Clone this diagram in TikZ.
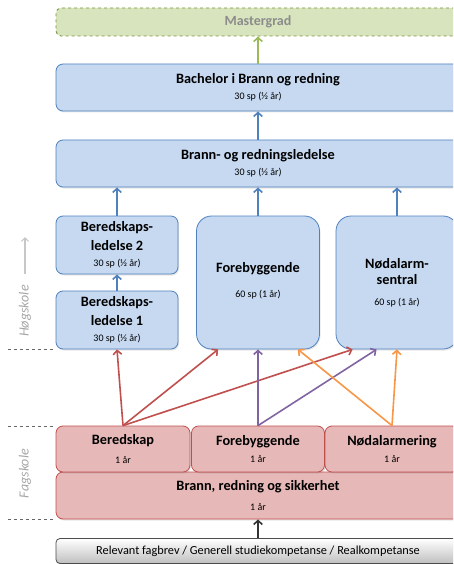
\documentclass[tikz,border=0pt]{standalone}
\usepackage{fontspec}
\setmainfont{Carlito}
\usetikzlibrary{arrows.meta,shadows,calc}
\definecolor{blueF}{HTML}{C6D9F1}
\definecolor{blueB}{HTML}{4F81BD}
\definecolor{redF}{HTML}{E6B9B8}
\definecolor{redB}{HTML}{C0504D}
\definecolor{greenF}{HTML}{D7E4BD}
\definecolor{greenB}{HTML}{77933C}
\definecolor{greenA}{HTML}{9BBB59}
\definecolor{purpleA}{HTML}{8064A2}
\definecolor{orangeA}{HTML}{F79646}
\newcommand{\ttl}[1]{{\bfseries #1}}
\newcommand{\sub}[1]{{\fontsize{10}{12}\selectfont #1}}
\tikzset{
  box/.style={inner sep=0pt, align=center, line width=0.8pt,
    font=\fontsize{14.3}{17.5}\selectfont,
    drop shadow={opacity=0.2, shadow xshift=1pt, shadow yshift=-1.5pt}},
  bluebox/.style={box, draw=blueB, fill=blueF, rounded corners=7pt},
  bigblue/.style={box, draw=blueB, fill=blueF, rounded corners=15pt},
  redbox/.style={box, draw=redB, fill=redF, rounded corners=7pt},
  greenbox/.style={inner sep=0pt, draw=greenB, fill=greenF, dashed, line width=0.9pt, rounded corners=5pt},
  basebox/.style={box, draw=black!70, top color=white, bottom color=black!25, rounded corners=4pt},
  arr/.style={line width=1.6pt, -{Straight Barb[length=4pt,width=8.5pt]}},
  sep/.style={dashed, black!60, line width=0.6pt},
  side/.style={rotate=90, text=black!35, font=\fontsize{14}{16}\selectfont\itshape}
}
\begin{document}
\begin{tikzpicture}[x=1pt,y=-1pt]
\useasboundingbox (0,0) rectangle (453,564);
\clip (0,0) rectangle (453,564);

\node[greenbox, minimum width=404pt, minimum height=28pt, text=black!45, font=\fontsize{14}{16}\selectfont\bfseries] (master) at (258,22) {Mastergrad};
\node[bluebox, minimum width=404pt, minimum height=47pt] (bach) at (258,87.5) {\ttl{Bachelor i Brann og redning}\\[-1pt]\sub{30 sp (½ år)}};
\node[bluebox, minimum width=404pt, minimum height=47pt] (brl) at (258,163.5) {\ttl{Brann- og redningsledelse}\\[-1pt]\sub{30 sp (½ år)}};
\node[bluebox, minimum width=122pt, minimum height=58pt] (bl2) at (117,245) {\ttl{Beredskaps-}\\[1pt]\ttl{ledelse 2}\\[-1pt]\sub{30 sp (½ år)}};
\node[bluebox, minimum width=122pt, minimum height=58pt] (bl1) at (117,320) {\ttl{Beredskaps-}\\[1pt]\ttl{ledelse 1}\\[-1pt]\sub{30 sp (½ år)}};
\node[bigblue, minimum width=123pt, minimum height=133pt] (foreB) at (258,282.5) {\mbox{}\\[-11pt]\ttl{Forebyggende}\\[8pt]\sub{60 sp (1 år)}};
\node[bigblue, minimum width=122pt, minimum height=133pt] (nod) at (397,282.5) {\ttl{Nødalarm-}\\[-1pt]\ttl{sentral}\\[3pt]\sub{60 sp (1 år)}};

\node[redbox, minimum width=404pt, minimum height=47pt] (brs) at (258,495.5) {\ttl{Brann, redning og sikkerhet}\\[2pt]\sub{1 år}};
\node[redbox, minimum width=134pt, minimum height=46pt] (bered) at (123,449) {\ttl{Beredskap}\\[2pt]\sub{1 år}};
\node[redbox, minimum width=133pt, minimum height=46pt] (foreR) at (258,449) {\ttl{Forebyggende}\\[0pt]\sub{1 år}};
\node[redbox, minimum width=134pt, minimum height=46pt] (nodR) at (392,449) {\ttl{Nødalarmering}\\[0pt]\sub{1 år}};

\node[basebox, minimum width=404pt, minimum height=25pt, font=\fontsize{12.3}{14}\selectfont] (rel) at (258,551) {Relevant fagbrev / Generell studiekompetanse / Realkompetanse};

% side labels
\node[side] (hog) at (25,311) {Høgskole};
\coordinate (hogA) at (25,274);
\coordinate (hogB) at (25,237);
\draw[black!22, line width=1.2pt, -{Straight Barb[length=3.5pt,width=7pt]}] (hogA) -- (hogB);
\node[side] (fag) at (25,473.5) {Fagskole};
\draw[sep] (8,349) -- (55,349);
\draw[sep] (8,426) -- (55,426);
\draw[sep] (8,519) -- (55,519);

% arrows
\draw[arr, greenA] (bach.north) -- (master.south);
\draw[arr, blueB] (brl.north) -- (bach.south);
\draw[arr, blueB] (bl2.north) -- (bl2.north |- brl.south);
\draw[arr, blueB] (foreB.north) -- (foreB.north |- brl.south);
\draw[arr, blueB] (nod.north) -- (nod.north |- brl.south);
\draw[arr, blueB] (bl1.north) -- (bl2.south);
\draw[arr, black!80] (rel.north) -- (brs.south);

\draw[arr, redB] (bered.north) -- (bl1.south);
\draw[arr, redB] (bered.north) -- ([xshift=22pt]foreB.south west);
\draw[arr, redB] (bered.north) -- ([xshift=17pt]nod.south west);
\draw[arr, purpleA] (foreR.north) -- (foreB.south);
\draw[arr, purpleA] (foreR.north) -- ([xshift=41pt]nod.south west);
\draw[arr, orangeA] (nodR.north) -- ([xshift=-22pt]foreB.south east);
\draw[arr, orangeA] (nodR.north) -- (nod.south);
\end{tikzpicture}
\end{document}
